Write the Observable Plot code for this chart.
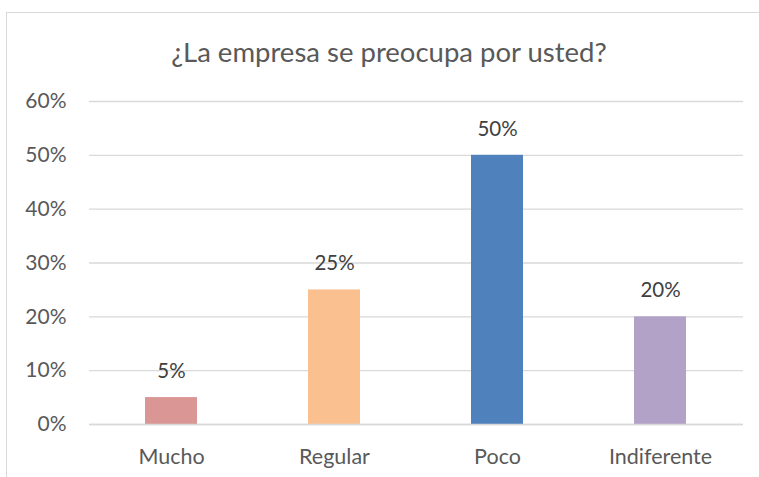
<!DOCTYPE html>
<html>
<head>
<meta charset="utf-8">
<script src="https://cdn.jsdelivr.net/npm/d3@7"></script>
<script src="https://cdn.jsdelivr.net/npm/@observablehq/plot@0.6"></script>
<style>
  html, body { margin: 0; padding: 0; background: #fff; }
  body { width: 759px; height: 477px; overflow: hidden; position: relative; font-family: Lato, "Open Sans", sans-serif; }
  #frame { position: absolute; left: 6px; top: 12px; width: 770px; height: 480px; border: 1px solid #d9d9d9; box-sizing: border-box; }
  #title { position: absolute; left: 0; width: 778px; top: 33px; text-align: center; font-size: 27.5px; color: #595959; line-height: 38px; }
  #chart { position: absolute; left: 0; top: 0; }
</style>
</head>
<body>
<div id="frame"></div>
<div id="title">¿La empresa se preocupa por usted?</div>
<div id="chart"></div>
<script>
const categories = ["Mucho", "Regular", "Poco", "Indiferente"];
const values = [0.05, 0.25, 0.50, 0.20];
const colors = ["#d99694", "#fac090", "#4f81bd", "#b2a2c7"];
const yTicks = [0, 0.1, 0.2, 0.3, 0.4, 0.5, 0.6];

const data = categories.map((c, i) => ({category: c, value: values[i], color: colors[i]}));

const plot = Plot.plot({
  width: 759,
  height: 477,
  marginLeft: 89,
  marginRight: 16,
  marginTop: 101,
  marginBottom: 53,
  style: {fontFamily: "Lato, 'Open Sans', sans-serif", fontSize: "20px", color: "#595959", background: "transparent"},
  x: {domain: categories, paddingInner: 0.68, paddingOuter: 0.34, label: null},
  y: {domain: [0, 0.6], label: null},
  marks: [
    Plot.gridY(yTicks, {stroke: "#d9d9d9", strokeOpacity: 1, strokeWidth: 1.3}),
    Plot.barY(data, {x: "category", y: "value", fill: "color"}),
    Plot.ruleY([0], {stroke: "#d9d9d9", strokeWidth: 1.3}),
    Plot.text(data, {x: "category", y: "value", text: d => d3.format(".0%")(d.value), dy: -26, fill: "#404040", fontSize: 20.5}),
    Plot.axisY(yTicks, {tickFormat: d3.format(".0%"), tickSize: 0, tickPadding: 23, fontSize: 21, fill: "#595959"}),
    Plot.axisX({tickSize: 0, tickPadding: 24, fontSize: 21.5, fill: "#595959"})
  ]
});
document.getElementById("chart").appendChild(plot);
</script>
</body>
</html>
